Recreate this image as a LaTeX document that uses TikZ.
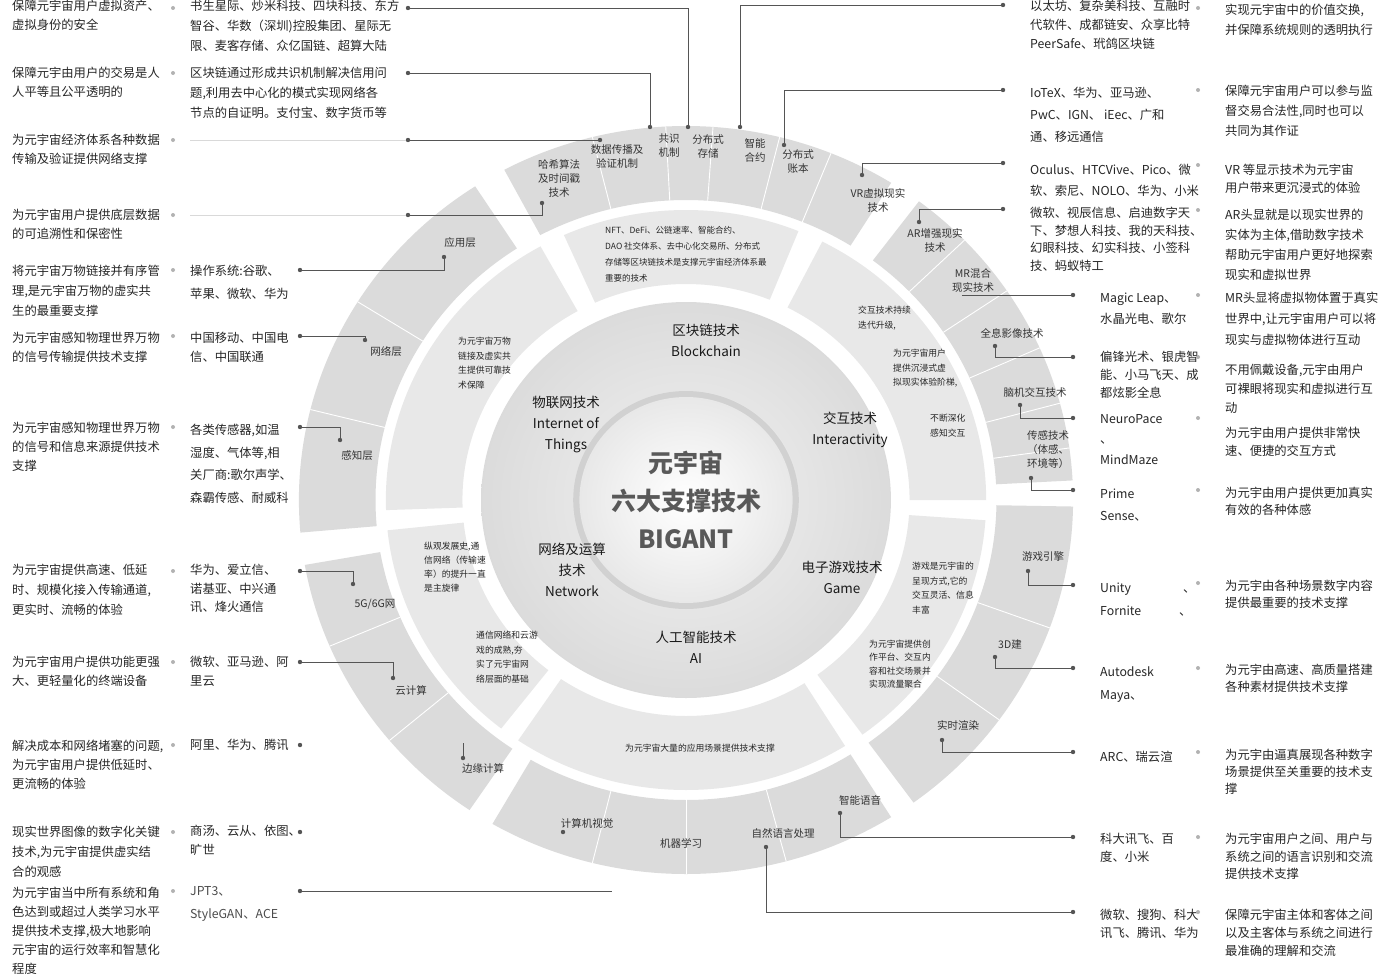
\documentclass[tikz,border=0pt]{standalone}
\usepackage{fontspec}
\setmainfont{Noto Sans CJK SC}
\definecolor{ringA}{HTML}{DBDBDB}
\definecolor{ringB}{HTML}{E8E8E8}
\definecolor{lnc}{HTML}{555555}
\newcommand\ringsec[5]{\fill[#5] (#1:#3) arc[start angle=#1,end angle=#2,radius=#3] -- (#2:#4) arc[start angle=#2,end angle=#1,radius=#4] -- cycle;}
\tikzset{
 dot/.style={circle,fill=lnc,inner sep=0,minimum size=4.4pt},
 ddot/.style={circle,fill=gray!60,inner sep=0,minimum size=4pt},
 ln/.style={draw=lnc,line width=0.8pt},
 lt/.style={anchor=north west,align=left,inner sep=0,text=black!85,font=\fontsize{12.3}{19}\selectfont},
 rl/.style={align=center,inner sep=0,text=black!80,font=\fontsize{10.5}{14}\selectfont},
 mt/.style={align=left,anchor=north west,inner sep=0,text=black!85,font=\fontsize{8.8}{14.5}\selectfont},
 il/.style={align=center,inner sep=0,text=black!90,font=\fontsize{13.5}{21}\selectfont},
 sep/.style={white,line width=0.9pt}
}
\begin{document}
\begin{tikzpicture}[x=1pt,y=-1pt]
\useasboundingbox (0,0) rectangle (1391,974);
\fill[white] (0,0) rectangle (1391,974);
% ---------------- rings
\begin{scope}[shift={(686,500)},yscale=-1,xscale=1.035]
 \ringsec{58}{118}{300}{374}{ringA}
 \ringsec{3}{53}{300}{374}{ringA}
 \ringsec{-54}{-1}{300}{374}{ringA}
 \ringsec{-120}{-58}{300}{374}{ringA}
 \ringsec{190}{236}{300}{374}{ringA}
 \ringsec{123}{185}{300}{374}{ringA}
 \foreach \a in {104,93,86,76,68,44,34,24,15,8,-20,-36,-75,-90,-104,148,166,203,220}
   \draw[sep] (\a:300) -- (\a:374);
 \ringsec{68}{114}{216}{290}{ringB}
 \ringsec{0}{63}{216}{290}{ringB}
 \ringsec{-54}{-4}{216}{290}{ringB}
 \ringsec{-124}{-58}{216}{290}{ringB}
 \ringsec{186}{232}{216}{290}{ringB}
 \ringsec{119}{182}{216}{290}{ringB}
 \shade[inner color=gray!10,outer color=gray!28] (0,0) circle (198);
 \fill[gray!36] (0,0) circle (109);
 \shade[inner color=white,outer color=gray!18] (0,0) circle (103);
\end{scope}
% ---------------- core and inner labels
\node[align=center,inner sep=0,text=black!65,font=\bfseries\fontsize{25}{38}\selectfont] (core) at (686,500) {元宇宙\\六大支撑技术\\BIGANT};
\node[il] (ibc) at (706,340) {区块链技术\\Blockchain};
\node[il] (iiot) at (566,425) {物联网技术\\Internet of\\Things};
\node[il] (iint) at (850,430) {交互技术\\Interactivity};
\node[il] (inet) at (572,570) {网络及运算\\技术\\Network};
\node[il] (igame) at (842,577) {电子游戏技术\\Game};
\node[il] (iai) at (696,647) {人工智能技术\\AI};
% ---------------- middle ring texts
\node[mt,font=\fontsize{8.5}{16}\selectfont] (mbc) at (605,226) {NFT、DeFi、公链速率、智能合约、\\DAO 社交体系、去中心化交易所、分布式\\存储等区块链技术是支撑元宇宙经济体系最\\重要的技术};
\node[mt] (mi1) at (858,306) {交互技术持续\\迭代升级,};
\node[mt] (mi2) at (893,349) {为元宇宙用户\\提供沉浸式虚\\拟现实体验阶梯,};
\node[mt] (mi3) at (930,414) {不断深化\\感知交互};
\node[mt] (mg1) at (912,562) {游戏是元宇宙的\\呈现方式,它的\\交互灵活、信息\\丰富};
\node[mt,font=\fontsize{8.8}{13.3}\selectfont] (mg2) at (869,640) {为元宇宙提供创\\作平台、交互内\\容和社交场景并\\实现流量聚合};
\node[mt,anchor=center] (mai) at (700,748) {为元宇宙大量的应用场景提供技术支撑};
\node[mt,font=\fontsize{8.8}{14}\selectfont] (mn1) at (424,542) {纵观发展史,通\\信网络（传输速\\率）的提升一直\\是主旋律};
\node[mt] (mn2) at (476,631) {通信网络和云游\\戏的成熟,夯\\实了元宇宙网\\络层面的基础};
\node[mt] (mo1) at (458,337) {为元宇宙万物\\链接及虚实共\\生提供可靠技\\术保障};
% ---------------- outer ring labels
\node[rl] (hx) at (559,178) {哈希算法\\及时间戳\\技术};
\node[rl] (sj) at (617,157) {数据传播及\\验证机制};
\node[rl] (gs) at (669,146) {共识\\机制};
\node[rl] (fc) at (708,146) {分布式\\存储};
\node[rl] (zy1) at (755,150) {智能\\合约};
\node[rl] (fzb) at (798,162) {分布式\\账本};
\node[rl] (lvr) at (878,200) {VR虚拟现实\\技术};
\node[rl] (lar) at (935,240) {AR增强现实\\技术};
\node[rl] (lmr) at (973,281) {MR混合\\现实技术};
\node[rl] (lqx) at (1012,333) {全息影像技术};
\node[rl] (lnj) at (1035,392) {脑机交互技术};
\node[rl] (lcg) at (1048,450) {传感技术\\（体感、\\环境等）};
\node[rl] (lyx) at (1043,557) {游戏引擎};
\node[rl] (l3d) at (1010,645) {3D建};
\node[rl] (lss) at (958,725) {实时渲染};
\node[rl] (lzy) at (860,800) {智能语音};
\node[rl] (lzr) at (783,833) {自然语言处理};
\node[rl] (ljq) at (681,843) {机器学习};
\node[rl] (ljs) at (587,823) {计算机视觉};
\node[rl] (lby) at (483,768) {边缘计算};
\node[rl] (lyj) at (411,690) {云计算};
\node[rl] (l5g) at (375,604) {5G/6G网};
\node[rl] (lgz) at (357,456) {感知层};
\node[rl] (lwl) at (386,351) {网络层};
\node[rl] (lyy) at (460,243) {应用层};
% ring dots
\node[dot] (bhx) at (542,203) {};
\node[dot] (bsj) at (600,140) {};
\node[dot] (bgs) at (650,127) {};
\node[dot] (bfc) at (688,127) {};
\node[dot] (bzn) at (740,127) {};
\node[dot] (bfz) at (784,145) {};
\node[dot] (bvr) at (862,175) {};
\node[dot] (bar) at (919,222) {};
\coordinate (bmr) at (962,294);
\node[dot] (bqx) at (995,346) {};
\node[dot] (bnj) at (1020,405) {};
\node[dot] (bcg) at (1031,478) {};
\node[dot] (byx) at (1028,571) {};
\node[dot] (b3d) at (995,657) {};
\node[dot] (bss) at (942,740) {};
\node[dot] (bzy) at (840,813) {};
\node[dot] (bzr) at (766,847) {};
\node[dot] (bjs) at (563,832) {};
\node[dot] (bby) at (463,758) {};
\coordinate (tby) at (463,743);
\node[dot] (byj) at (393,678) {};
\node[dot] (b5g) at (353,584) {};
\node[dot] (bgz) at (340,440) {};
\node[dot] (bwl) at (365,340) {};
\node[dot] (byy) at (444,257) {};
\coordinate (bjq) at (612,891);
% ---------------- left column
\node[lt] (d1) at (12,0) {保障元宇宙用户虚拟资产、\\虚拟身份的安全};
\node[lt] (d2) at (12,67) {保障元宇由用户的交易是人\\人平等且公平透明的};
\node[lt] (d3) at (12,134) {为元宇宙经济体系各种数据\\传输及验证提供网络支撑};
\node[lt] (d4) at (12,209) {为元宇宙用户提供底层数据\\的可追溯性和保密性};
\node[lt,font=\fontsize{12.3}{20}\selectfont] (d5) at (12,265) {将元宇宙万物链接并有序管\\理,是元宇宙万物的虚实共\\生的最重要支撑};
\node[lt] (d6) at (12,332) {为元宇宙感知物理世界万物\\的信号传输提供技术支撑};
\node[lt] (d7) at (12,422) {为元宇宙感知物理世界万物\\的信号和信息来源提供技术\\支撑};
\node[lt,font=\fontsize{12.3}{20}\selectfont] (d8) at (12,564) {为元宇宙提供高速、低延\\时、规模化接入传输通道,\\更实时、流畅的体验};
\node[lt] (d9) at (12,656) {为元宇宙用户提供功能更强\\大、更轻量化的终端设备};
\node[lt] (d10) at (12,740) {解决成本和网络堵塞的问题,\\为元宇宙用户提供低延时、\\更流畅的体验};
\node[lt,font=\fontsize{12.3}{20}\selectfont] (d11) at (12,826) {现实世界图像的数字化关键\\技术,为元宇宙提供虚实结\\合的观感};
\node[lt,font=\fontsize{12.3}{19}\selectfont] (d12) at (12,887) {为元宇宙当中所有系统和角\\色达到或超过人类学习水平\\提供技术支撑,极大地影响\\元宇宙的运行效率和智慧化\\程度};
\foreach \y [count=\i] in {8,73,140,215,270,336,427,571,662,745,832,891}
  \node[ddot] (ld\i) at (173,\y) {};
\node[lt,font=\fontsize{12.3}{20}\selectfont] (c1) at (190,0) {书生星际、炒米科技、四块科技、东方\\智谷、华数（深圳)控股集团、星际无\\限、麦客存储、众亿国链、超算大陆};
\node[lt,font=\fontsize{12.3}{20}\selectfont] (c2) at (190,67) {区块链通过形成共识机制解决信用问\\题,利用去中心化的模式实现网络各\\节点的自证明。支付宝、数字货币等};
\node[lt,font=\fontsize{12.3}{23}\selectfont] (c5) at (190,265) {操作系统:谷歌、\\苹果、微软、华为};
\node[lt] (c6) at (190,332) {中国移动、中国电\\信、中国联通};
\node[lt,font=\fontsize{12.3}{22.5}\selectfont] (c7) at (190,424) {各类传感器,如温\\湿度、气体等,相\\关厂商:歌尔声学、\\森霸传感、耐威科};
\node[lt,font=\fontsize{12.3}{18.5}\selectfont] (c8) at (190,564) {华为、爱立信、\\诺基亚、中兴通\\讯、烽火通信};
\node[lt] (c9) at (190,656) {微软、亚马逊、阿\\里云};
\node[lt] (c10) at (190,739) {阿里、华为、腾讯};
\node[lt] (c11) at (190,825) {商汤、云从、依图、\\旷世};
\node[lt,font=\fontsize{12.3}{23}\selectfont,text=black!70] (c12) at (190,886) {JPT3、\\StyleGAN、ACE};
\node[dot] (lc1) at (408,8) {};
\node[dot] (lc2) at (408,73) {};
\node[dot] (lc3) at (408,140) {};
\node[dot] (lc4) at (408,215) {};
\foreach \y [count=\i from 5] in {270,336,427,571,662,745,832,891}
  \node[dot] (lc\i) at (300,\y) {};
\coordinate (lf3) at (190,140);
\coordinate (lf4) at (190,215);
% left connectors
\draw[gray!30,line width=0.8pt] (lf3) -- (lc3);
\draw[gray!30,line width=0.8pt] (lf4) -- (lc4);
\draw[ln] (lc1) -| (bfc);
\draw[ln] (lc2) -| (bgs);
\draw[ln] (lc3) -- (bsj);
\draw[ln] (lc4) -| (bhx);
\draw[ln] (lc5) -| (byy);
\draw[ln] (lc6) -| (bwl);
\draw[ln] (lc7) -| (bgz);
\draw[ln] (lc8) -| (b5g);
\draw[ln] (lc9) -| (byj);
\draw[ln] (tby) -- (bby);
\draw[ln] (lc12) -- (bjq);
% ---------------- right column
\node[lt,font=\fontsize{12.3}{19}\selectfont] (r1) at (1030,0) {以太坊、复杂美科技、互融时\\代软件、成都链安、众享比特\\PeerSafe、玳鸽区块链};
\node[lt,font=\fontsize{12.3}{22}\selectfont] (r2) at (1030,87) {IoTeX、华为、亚马逊、\\PwC、IGN、 iEec、广和\\通、移远通信};
\node[lt,font=\fontsize{12.3}{21}\selectfont] (r3) at (1030,164) {Oculus、HTCVive、Pico、微\\软、索尼、NOLO、华为、小米};
\node[lt,font=\fontsize{12.3}{17.5}\selectfont] (r4) at (1030,207) {微软、视辰信息、启迪数字天\\下、梦想人科技、我的天科技、\\幻眼科技、幻实科技、小签科\\技、蚂蚁特工};
\node[lt,font=\fontsize{12.3}{21}\selectfont] (r5) at (1100,293) {Magic Leap、\\水晶光电、歌尔};
\node[lt,font=\fontsize{12.3}{18}\selectfont] (r6) at (1100,351) {偏锋光术、银虎智\\能、小马飞天、成\\都炫影全息};
\node[lt,font=\fontsize{12.3}{20.5}\selectfont] (r7) at (1100,414) {NeuroPace\\、\\MindMaze};
\node[lt,font=\fontsize{12.3}{22}\selectfont] (r8) at (1100,489) {Prime\\Sense、};
\node[lt,font=\fontsize{12.3}{23}\selectfont] (r9) at (1100,583) {Unity\hspace{52pt}、\\Fornite\hspace{38pt}、};
\node[lt,font=\fontsize{12.3}{23}\selectfont] (r10) at (1100,666) {Autodesk\\Maya、};
\node[lt] (r11) at (1100,751) {ARC、瑞云渲};
\node[lt,font=\fontsize{12.3}{18}\selectfont] (r12) at (1100,833) {科大讯飞、百\\度、小米};
\node[lt,font=\fontsize{12.3}{17.5}\selectfont] (r13) at (1100,909) {微软、搜狗、科大\\讯飞、腾讯、华为};
\node[lt,font=\fontsize{12.3}{20}\selectfont] (e1) at (1225,4) {实现元宇宙中的价值交换,\\并保障系统规则的透明执行};
\node[lt,font=\fontsize{12.3}{20}\selectfont] (e2) at (1225,85) {保障元宇宙用户可以参与监\\督交易合法性,同时也可以\\共同为其作证};
\node[lt,font=\fontsize{12.3}{18}\selectfont] (e3) at (1225,164) {VR 等显示技术为元宇宙\\用户带来更沉浸式的体验};
\node[lt,font=\fontsize{12.3}{20}\selectfont] (e4) at (1225,209) {AR头显就是以现实世界的\\实体为主体,借助数字技术\\帮助元宇宙用户更好地探索\\现实和虚拟世界};
\node[lt,font=\fontsize{12.3}{21}\selectfont] (e5) at (1225,292) {MR头显将虚拟物体置于真实\\世界中,让元宇宙用户可以将\\现实与虚拟物体进行互动};
\node[lt,font=\fontsize{12.3}{19}\selectfont] (e6) at (1225,364) {不用佩戴设备,元宇由用户\\可裸眼将现实和虚拟进行互\\动};
\node[lt,font=\fontsize{12.3}{18}\selectfont] (e7) at (1225,427) {为元宇由用户提供非常快\\速、便捷的交互方式};
\node[lt,font=\fontsize{12.3}{17}\selectfont] (e8) at (1225,487) {为元宇由用户提供更加真实\\有效的各种体感};
\node[lt,font=\fontsize{12.3}{17}\selectfont] (e9) at (1225,580) {为元宇由各种场景数字内容\\提供最重要的技术支撑};
\node[lt,font=\fontsize{12.3}{17}\selectfont] (e10) at (1225,664) {为元宇由高速、高质量搭建\\各种素材提供技术支撑};
\node[lt,font=\fontsize{12.3}{17}\selectfont] (e11) at (1225,749) {为元宇由逼真展现各种数字\\场景提供至关重要的技术支\\撑};
\node[lt,font=\fontsize{12.3}{17.5}\selectfont] (e12) at (1225,833) {为元宇宙用户之间、用户与\\系统之间的语言识别和交流\\提供技术支撑};
\node[lt,font=\fontsize{12.3}{18}\selectfont] (e13) at (1225,909) {保障元宇宙主体和客体之间\\以及主客体与系统之间进行\\最准确的理解和交流};
\foreach \y [count=\i] in {8,90,165,210,295,357,418,490,583,668,752,837,912}
  \node[ddot] (rm\i) at (1198,\y) {};
\node[dot] (rc1) at (1003,5) {};
\node[dot] (rc2) at (1003,90) {};
\node[dot] (rc3) at (1003,163) {};
\node[dot] (rc4) at (1003,209) {};
\foreach \y [count=\i from 5] in {295,357,418,490,585,668,752,837,912}
  \node[dot] (rc\i) at (1073,\y) {};
\draw[ln] (rc1) -| (bzn);
\draw[ln] (rc2) -| (bfz);
\draw[ln] (rc3) -| (bvr);
\draw[ln] (rc4) -| (bar);
\draw[ln] (rc5) -- (rc5 -| bmr);
\draw[ln] (rc6) -| (bqx);
\draw[ln] (rc7) -| (bnj);
\draw[ln] (rc8) -| (bcg);
\draw[ln] (rc9) -| (byx);
\draw[ln] (rc10) -| (b3d);
\draw[ln] (rc11) -| (bss);
\draw[ln] (rc12) -| (bzy);
\draw[ln] (rc13) -| (bzr);
\end{tikzpicture}
\end{document}
